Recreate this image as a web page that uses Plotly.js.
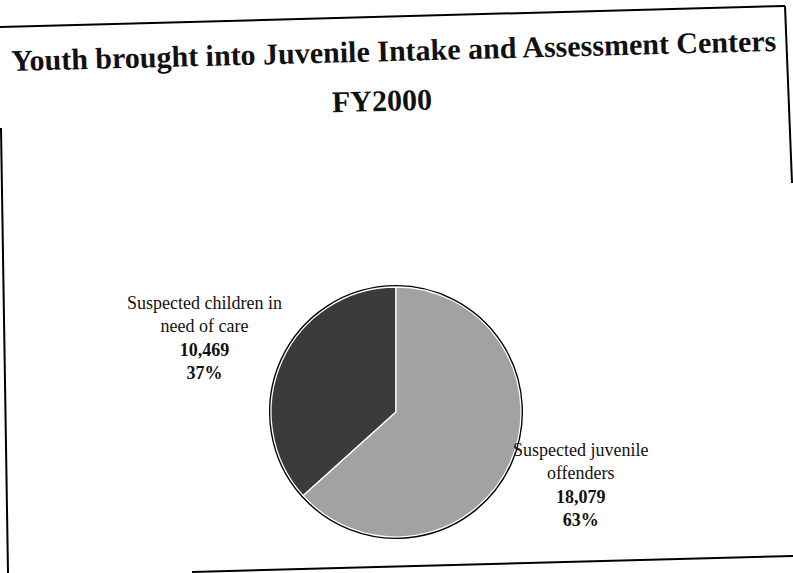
<!DOCTYPE html>
<html>
<head>
<meta charset="utf-8">
<script src="https://cdn.plot.ly/plotly-3.0.1.min.js"></script>
<style>
  html, body { margin: 0; padding: 0; background: #ffffff; }
  #chart { width: 793px; height: 573px; }
</style>
</head>
<body>
<div id="chart"></div>
<script>
// Youth brought into Juvenile Intake and Assessment Centers, FY2000
const categories = ["Suspected children in<br>need of care", "Suspected juvenile<br>offenders"];
const counts = [10469, 18079];
const sliceColors = ["#3b3b3b", "#a2a2a2"];
const titleLine1 = "Youth brought into Juvenile Intake and Assessment Centers";
const titleLine2 = "FY2000";

const W = 793, H = 573;
const px = x => x / W;
const py = y => 1 - y / H;

const total = counts.reduce((a, b) => a + b, 0);
const fmt = n => n.toLocaleString("en-US");
const pct = n => Math.round(100 * n / total) + "%";

// pie geometry (pixels): centre and radius
const cx = 396, cy = 412, r = 125;
const domain = { x: [px(cx - r), px(cx + r)], y: [py(cy + r), py(cy - r)] };

// the first slice ends at 12 o'clock, so it sits on the left half
const pieBase = {
  type: "pie",
  labels: categories,
  values: counts,
  sort: false,
  direction: "clockwise",
  rotation: -360 * counts[0] / total,
  textinfo: "none",
  hoverinfo: "label+value+percent",
  showlegend: false,
  domain: domain
};

const traces = [
  Object.assign({}, pieBase, {
    marker: { colors: sliceColors, line: { color: "#000000", width: 4 } }
  }),
  Object.assign({}, pieBase, {
    marker: { colors: sliceColors, line: { color: "#ffffff", width: 1.3 } }
  })
];

const labelFont = { family: "Liberation Serif, Times New Roman, serif", size: 18, color: "#111111" };
const titleFont = { family: "Liberation Serif, Times New Roman, serif", size: 30, color: "#111111", weight: "bold" };

const labelPos = [
  { x: 204, y: 338 },
  { x: 580, y: 485 }
];

const annotations = [
  { text: titleLine1, x: px(393), y: py(50), font: titleFont, textangle: -1.5 },
  { text: titleLine2, x: px(382), y: py(100), font: titleFont, textangle: -1.5 }
].concat(categories.map((c, i) => ({
  text: c + "<br><b>" + fmt(counts[i]) + "</b><br><b>" + pct(counts[i]) + "</b>",
  x: px(labelPos[i].x), y: py(labelPos[i].y), font: labelFont
}))).map(a => Object.assign({
  xref: "paper", yref: "paper", showarrow: false,
  xanchor: "center", yanchor: "middle", align: "center"
}, a));

// scanned page border
const frame = [
  [[0, 27], [785, 6]],
  [[785, 6], [792, 183]],
  [[1, 128], [8, 573]],
  [[192, 572], [793, 556]]
].map(seg => ({
  type: "line", xref: "paper", yref: "paper",
  x0: px(seg[0][0]), y0: py(seg[0][1]), x1: px(seg[1][0]), y1: py(seg[1][1]),
  line: { color: "#000000", width: 2 }
}));

const layout = {
  width: W, height: H,
  margin: { l: 0, r: 0, t: 0, b: 0 },
  paper_bgcolor: "#ffffff",
  plot_bgcolor: "#ffffff",
  annotations: annotations,
  shapes: frame
};

Plotly.newPlot("chart", traces, layout, { displayModeBar: false, staticPlot: true });
</script>
</body>
</html>
